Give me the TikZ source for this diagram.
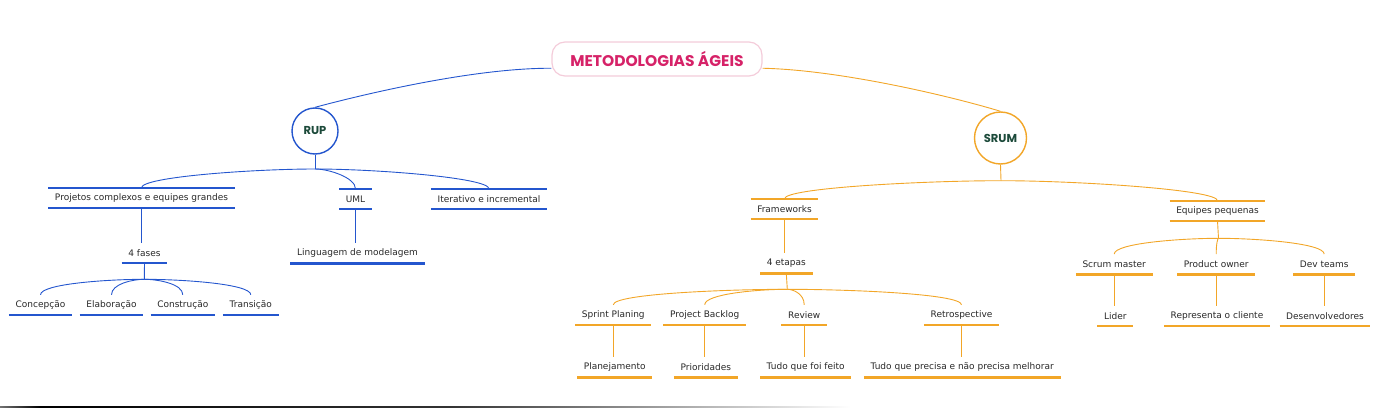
\documentclass[tikz,border=0pt]{standalone}
\usepackage{fontspec}
\setmainfont{DejaVu Sans}
\newfontfamily\headfont{Poppins}
\usetikzlibrary{calc}

\definecolor{rupblue}{RGB}{36,86,206}
\definecolor{srumorange}{RGB}{242,166,40}
\definecolor{titlepink}{RGB}{214,34,104}
\definecolor{boxpink}{RGB}{244,204,218}
\definecolor{hubtext}{RGB}{28,74,58}
\definecolor{labeltext}{RGB}{40,40,40}

\tikzset{
  lbl/.style={font=\fontsize{9}{10}\selectfont, text=labeltext,
    minimum height=20pt, inner xsep=6.5pt, inner ysep=0pt},
  topic/.style={lbl, append after command={
    (\tikzlastnode.north west) edge[#1, line width=2.4pt] (\tikzlastnode.north east)
    (\tikzlastnode.south west) edge[#1, line width=2.4pt] (\tikzlastnode.south east)}},
  leaf/.style={lbl, append after command={
    (\tikzlastnode.south west) edge[#1, line width=2.4pt] (\tikzlastnode.south east)}},
  hub/.style={circle, draw=#1, line width=1.4pt, fill=white, inner sep=0pt,
    font=\headfont\bfseries\fontsize{11.5}{13}\selectfont, text=hubtext},
  twig/.style={to path={.. controls ($(\tikztostart)!0.35!(\tikztotarget |- \tikztostart)$)
    and ($(\tikztotarget)+(0,11)$) .. (\tikztotarget)}},
  bluelink/.style={draw=rupblue, line width=0.9pt},
  orangelink/.style={draw=srumorange, line width=0.9pt},
}

\begin{document}
\begin{tikzpicture}[x=1pt, y=1pt]

    \useasboundingbox (0,0) rectangle (1383,408);

    % central topic
    \node[draw=boxpink, line width=1.2pt, rounded corners=13pt, fill=white,
      minimum width=210pt, minimum height=34pt, text=titlepink,
      font=\headfont\bfseries\fontsize{15.5}{17}\selectfont] (title) at (657,349) {METODOLOGIAS ÁGEIS};

    % main branches
    \node[hub=rupblue, minimum size=46pt] (rup) at (315,277) {RUP};
    \node[hub=srumorange, minimum size=52pt] (srum) at (1000.5,270) {SRUM};

    \draw[bluelink] (title.185) .. controls (480,340) and (380,318) .. (rup.north);
    \draw[orangelink] (title.-5) .. controls (840,338) and (950,312) .. (srum.north);

    % RUP side
    \coordinate (rupj) at (315,239);
    \node[topic=rupblue] (proj) at (141.5,210) {Projetos complexos e equipes grandes};
    \node[topic=rupblue] (uml) at (355.5,209) {UML};
    \node[topic=rupblue] (iter) at (489,209) {Iterativo e incremental};

    \draw[bluelink] (rup.south) -- (rupj);
    \draw[bluelink] (rupj) to[twig] (proj.north);
    \draw[bluelink] (rupj) to[twig] (uml.north);
    \draw[bluelink] (rupj) to[twig] (iter.north);

    \node[leaf=rupblue] (fases) at (144.5,155) {4 fases};
    \node[leaf=rupblue] (lingua) at (357.5,154.7) {Linguagem de modelagem};
    \draw[bluelink] (proj.south) -- (proj.south |- fases.north);
    \draw[bluelink] (uml.south) -- (uml.south |- lingua.north);

    % the four phases
    \coordinate (fasesj) at (144.3,128.7);
    \node[leaf=rupblue] (concep) at (40.5,103) {Concepção};
    \node[leaf=rupblue] (elab) at (111.5,103) {Elaboração};
    \node[leaf=rupblue] (constr) at (182.8,103) {Construção};
    \node[leaf=rupblue] (trans) at (250.8,103) {Transição};

    \draw[bluelink] (fases.south) -- (fasesj);
    \foreach \n in {concep,elab,constr,trans}
      \draw[bluelink] (fasesj) to[twig] (\n.north);

    % SRUM side
    \coordinate (srumj) at (1001,227.3);
    \node[topic=srumorange] (frame) at (784.5,199) {Frameworks};
    \node[topic=srumorange] (equipes) at (1217.5,197.1) {Equipes pequenas};

    \draw[orangelink] (srum.south) -- (srumj);
    \draw[orangelink] (srumj) to[twig] (frame.north);
    \draw[orangelink] (srumj) to[twig] (equipes.north);

    \node[leaf=srumorange] (etapas) at (786.3,144.7) {4 etapas};
    \draw[orangelink] (frame.south) -- (frame.south |- etapas.north);

    % the four steps
    \coordinate (etapasj) at (787.3,118.7);
    \node[leaf=srumorange] (sprint) at (613.3,93) {Sprint Planing};
    \node[leaf=srumorange] (backlog) at (704.7,93) {Project Backlog};
    \node[leaf=srumorange] (review) at (804.2,93) {Review};
    \node[leaf=srumorange] (retro) at (961.5,93) {Retrospective};

    \draw[orangelink] (etapas.south) -- (etapasj);
    \foreach \n in {sprint,backlog,review,retro}
      \draw[orangelink] (etapasj) to[twig] (\n.north);

    \node[leaf=srumorange] (plan) at (614.7,40.7) {Planejamento};
    \node[leaf=srumorange] (prior) at (705.8,40.7) {Prioridades};
    \node[leaf=srumorange] (feito) at (805.7,40.7) {Tudo que foi feito};
    \node[leaf=srumorange] (melhor) at (962.2,40.7) {Tudo que precisa e não precisa melhorar};

    \draw[orangelink] (sprint.south) -- (sprint.south |- plan.north);
    \draw[orangelink] (backlog.south) -- (backlog.south |- prior.north);
    \draw[orangelink] (review.south) -- (review.south |- feito.north);
    \draw[orangelink] (retro.south) -- (retro.south |- melhor.north);

    % team roles
    \coordinate (equipesj) at (1218.5,169.7);
    \node[leaf=srumorange] (scrum) at (1114.2,143.7) {Scrum master};
    \node[leaf=srumorange] (owner) at (1216.2,143.7) {Product owner};
    \node[leaf=srumorange] (devt) at (1324.2,143.7) {Dev teams};

    \draw[orangelink] (equipes.south) -- (equipesj);
    \foreach \n in {scrum,owner,devt}
      \draw[orangelink] (equipesj) to[twig] (\n.north);

    \node[leaf=srumorange] (lider) at (1115.3,92) {Lider};
    \node[leaf=srumorange] (cliente) at (1217,92) {Representa o cliente};
    \node[leaf=srumorange] (desenv) at (1325,92) {Desenvolvedores};

    \draw[orangelink] (scrum.south) -- (scrum.south |- lider.north);
    \draw[orangelink] (owner.south) -- (owner.south |- cliente.north);
    \draw[orangelink] (devt.south) -- (devt.south |- desenv.north);

    % bottom edge of the window
    \shade[left color=black!55, right color=black] (0,0.6) rectangle (40,2);
    \shade[left color=black, right color=black!80] (40,0.6) rectangle (450,2);
    \shade[left color=black!80, right color=white] (450,0.6) rectangle (850,2);

\end{tikzpicture}
\end{document}
